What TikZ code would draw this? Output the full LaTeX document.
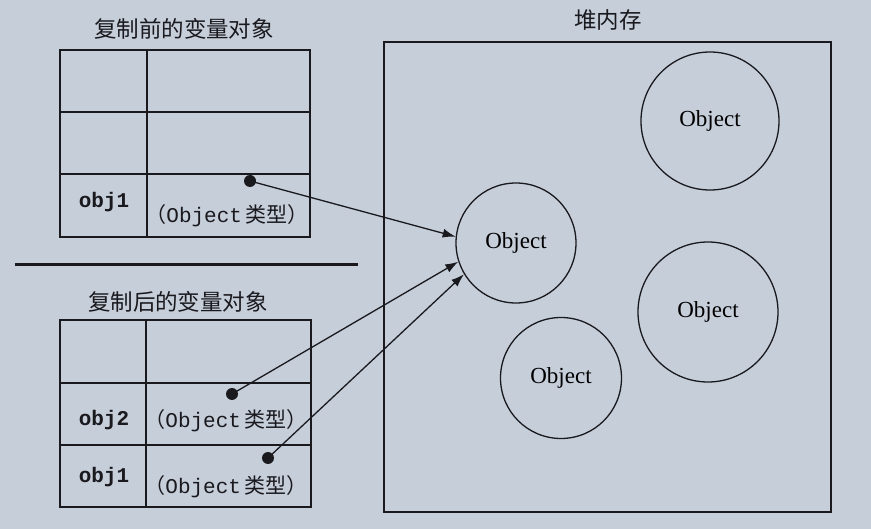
\documentclass[tikz,border=0pt]{standalone}
\usepackage{fontspec}
\setmainfont{Liberation Serif}
\newfontfamily\cjk{Noto Sans CJK SC}
\newfontfamily\codefont{Liberation Mono}
\usetikzlibrary{arrows.meta}
\definecolor{paper}{RGB}{198,206,218}
\definecolor{ink}{RGB}{25,25,30}
\tikzset{
  tbl/.style={draw=ink, line width=1.2pt},
  obj/.style={circle, draw=ink, line width=1.3pt, inner sep=0pt, font=\fontsize{23}{27}\selectfont},
  refdot/.style={circle, fill=ink, inner sep=0pt, minimum size=12pt},
  ptr/.style={draw=ink, line width=1.3pt, -{Latex[length=13pt,width=9pt]}},
  ttl/.style={font=\cjk\fontsize{22.5}{26}\selectfont, text=ink},
  varname/.style={font=\codefont\bfseries\fontsize{21}{25}\selectfont, text=ink},
  vartype/.style={font=\fontsize{21}{25}\selectfont, text=ink},
}
\newcommand{\typetext}{{\cjk （}{\codefont Object}\,{\cjk 类型）}}
\begin{document}
\begin{tikzpicture}[x=1pt,y=-1pt]
\useasboundingbox (0,0) rectangle (871,529);
\fill[paper] (0,0) rectangle (871,529);

% top table (before copy)
\node[ttl] (t1) at (184,29) {复制前的变量对象};
\draw[tbl] (60,50) rectangle (310,237);
\draw[tbl] (147,50) -- (147,237);
\draw[tbl] (60,112) -- (310,112);
\draw[tbl] (60,174) -- (310,174);
\node[varname] (n1) at (104,202) {obj1};
\node[vartype] (v1) at (227,216) {\typetext};
\node[refdot] (d1) at (250,181) {};

% separator rule
\draw[draw=ink, line width=3pt] (15,265) -- (358,265);

% bottom table (after copy)
\node[ttl] (t2) at (178,302) {复制后的变量对象};
\draw[tbl] (60,320) rectangle (311,507);
\draw[tbl] (146,320) -- (146,507);
\draw[tbl] (60,383) -- (311,383);
\draw[tbl] (60,445) -- (311,445);
\node[varname] (n2) at (104,420) {obj2};
\node[vartype] (v2) at (226,421) {\typetext};
\node[varname] (n3) at (104,477) {obj1};
\node[vartype] (v3) at (226,487) {\typetext};
\node[refdot] (d2) at (232,394) {};
\node[refdot] (d3) at (268,458) {};

% heap
\node[ttl] (th) at (608,20) {堆内存};
\draw[tbl] (384,42) rectangle (831,512);
\node[obj, minimum size=138pt] (o1) at (710,121) {Object};
\node[obj, minimum size=120pt] (o2) at (516,243) {Object};
\node[obj, minimum size=140pt] (o3) at (708,312) {Object};
\node[obj, minimum size=121pt] (o4) at (561,378) {Object};

% pointers
\draw[ptr] (d1.center) -- (o2.174);
\draw[ptr] (d2.center) -- (o2.198);
\draw[ptr] (d3.center) -- (o2.211);
\end{tikzpicture}
\end{document}
